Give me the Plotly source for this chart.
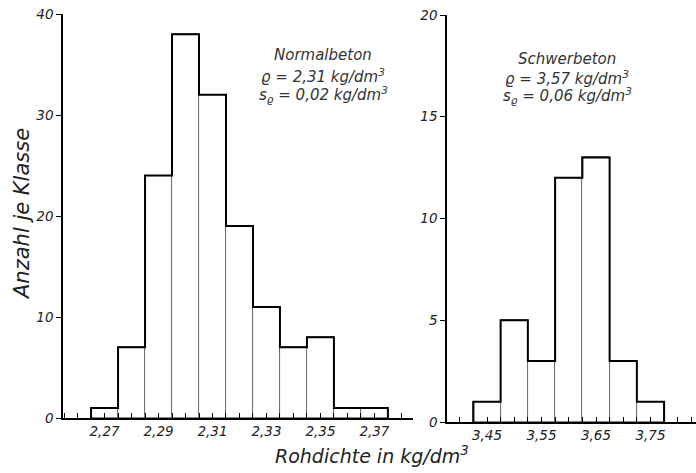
import plotly.graph_objects as go

# Normalbeton
nb_centers = [2.27, 2.28, 2.29, 2.30, 2.31, 2.32, 2.33, 2.34, 2.35, 2.36, 2.37]
nb_counts = [1, 7, 24, 38, 32, 19, 11, 7, 8, 1, 1]
nb_width = 0.01
nb_tickvals = [2.27, 2.29, 2.31, 2.33, 2.35, 2.37]
nb_ticktext = ["2,27", "2,29", "2,31", "2,33", "2,35", "2,37"]

# Schwerbeton
sb_centers = [3.45, 3.50, 3.55, 3.60, 3.65, 3.70, 3.75]
sb_counts = [1, 5, 3, 12, 13, 3, 1]
sb_width = 0.05
sb_tickvals = [3.45, 3.55, 3.65, 3.75]
sb_ticktext = ["3,45", "3,55", "3,65", "3,75"]

W, H = 696, 473
FONT = "DejaVu Sans"


def step_outline(centers, counts, width):
    edges = [c - width / 2 for c in centers] + [centers[-1] + width / 2]
    xs = [edges[0]] + edges[:-1] + [edges[-1]]
    ys = [0] + list(counts) + [0]
    return xs, ys


fig = go.Figure()

for centers, counts, width, xa, ya in [
    (nb_centers, nb_counts, nb_width, "x", "y"),
    (sb_centers, sb_counts, sb_width, "x2", "y2"),
]:
    fig.add_trace(go.Bar(
        x=centers, y=counts, width=[width] * len(centers),
        marker=dict(color="white", line=dict(color="#555", width=0.8)),
        xaxis=xa, yaxis=ya, showlegend=False, hoverinfo="x+y",
    ))
    sx, sy = step_outline(centers, counts, width)
    fig.add_trace(go.Scatter(
        x=sx, y=sy, mode="lines", line=dict(color="black", width=2, shape="hv"),
        xaxis=xa, yaxis=ya, showlegend=False, hoverinfo="skip",
    ))

tickfont = dict(family=FONT, size=13.5, color="#222", style="italic")
axcommon = dict(showline=True, linecolor="black", linewidth=1.5, showgrid=False,
                zeroline=False, tickfont=tickfont, tickcolor="black",
                automargin=False)

fig.update_layout(
    template="none",
    width=W, height=H, margin=dict(l=0, r=0, t=0, b=0, pad=0),
    paper_bgcolor="white", plot_bgcolor="white", bargap=0,
    xaxis=dict(domain=[63 / W, 413 / W], range=[2.2546, 2.3843], anchor="y",
               tickmode="array", tickvals=nb_tickvals, ticktext=nb_ticktext,
               ticks="inside", ticklen=5, tickwidth=1,
               minor=dict(tick0=2.265, dtick=0.005, ticks="inside", ticklen=5,
                          tickcolor="black", tickwidth=1),
               **axcommon),
    yaxis=dict(domain=[55 / H, 459 / H], range=[0, 40], anchor="x",
               tickvals=[0, 10, 20, 30, 40], ticks="outside", ticklen=5,
               **axcommon),
    xaxis2=dict(domain=[447 / W, 1.0], range=[3.3766, 3.8335], anchor="y2",
                tickmode="array", tickvals=sb_tickvals, ticktext=sb_ticktext,
                ticks="inside", ticklen=5, tickwidth=1,
                minor=dict(tick0=3.425, dtick=0.025, ticks="inside", ticklen=5,
                           tickcolor="black", tickwidth=1),
                **axcommon),
    yaxis2=dict(domain=[51 / H, 458 / H], range=[0, 20], anchor="x2",
                tickvals=[0, 5, 10, 15, 20], ticks="outside", ticklen=5,
                **axcommon),
)

annfont = dict(family=FONT, size=15, color="#333", style="italic")
titlefont = dict(family=FONT, size=19, color="#222", style="italic")

annotations = [
    dict(text="Normalbeton", x=323 / W, y=1 - 55 / H),
    dict(text="ϱ = 2,31 kg/dm<sup>3</sup>", x=323 / W, y=1 - 76 / H),
    dict(text="s<sub>ϱ</sub> = 0,02 kg/dm<sup>3</sup>", x=323 / W, y=1 - 94 / H),
    dict(text="Schwerbeton", x=567 / W, y=1 - 59 / H),
    dict(text="ϱ = 3,57 kg/dm<sup>3</sup>", x=567 / W, y=1 - 78 / H),
    dict(text="s<sub>ϱ</sub> = 0,06 kg/dm<sup>3</sup>", x=567 / W, y=1 - 96 / H),
]
for a in annotations:
    fig.add_annotation(xref="paper", yref="paper", showarrow=False,
                       xanchor="center", yanchor="middle", font=annfont, **a)

fig.add_annotation(text="Rohdichte in kg/dm<sup>3</sup>", xref="paper", yref="paper",
                   x=372 / W, y=1 - 455 / H, showarrow=False, xanchor="center",
                   yanchor="middle", font=titlefont)
fig.add_annotation(text="Anzahl je Klasse", xref="paper", yref="paper",
                   x=22 / W, y=1 - 214 / H, showarrow=False, textangle=-90,
                   xanchor="center", yanchor="middle",
                   font=dict(titlefont, size=21))

fig.write_html(
    "out.html",
    config={"displayModeBar": False},
    post_script="document.body.style.margin='0';document.body.style.overflow='hidden';",
)
